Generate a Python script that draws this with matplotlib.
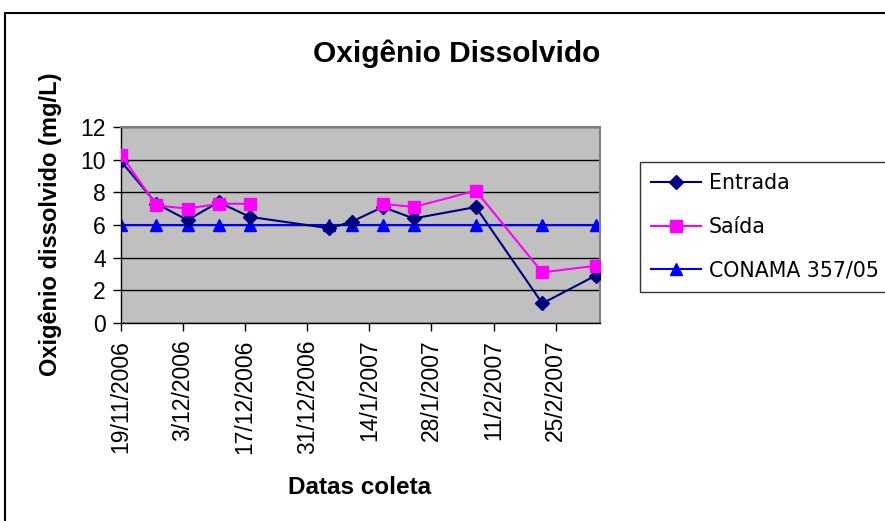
import matplotlib
matplotlib.use("Agg")
import matplotlib.pyplot as plt
from matplotlib.patches import Rectangle
from datetime import datetime
import numpy as np

# collection dates and dissolved oxygen (mg/L)
datas = ["19/11/2006", "27/11/2006", "4/12/2006", "11/12/2006", "18/12/2006",
         "5/1/2007", "10/1/2007", "17/1/2007", "24/1/2007", "7/2/2007",
         "22/2/2007", "6/3/2007"]
entrada = [9.9, 7.3, 6.3, 7.4, 6.5, 5.8, 6.2, 7.1, 6.4, 7.1, 1.2, 2.9]
saida = [10.3, 7.2, 7.0, 7.3, 7.3, np.nan, np.nan, 7.3, 7.1, 8.1, 3.1, 3.5]
conama = [6, 6, 6, 6, 6, 6, 6, 6, 6, 6, 6, 6]
ticks_x = ["19/11/2006", "3/12/2006", "17/12/2006", "31/12/2006", "14/1/2007",
           "28/1/2007", "11/2/2007", "25/2/2007"]
x_fim = "7/3/2007"

def to_date(s):
    return datetime.strptime(s, "%d/%m/%Y")

x = [to_date(d) for d in datas]

plt.rcParams['font.family'] = ['Liberation Sans', 'DejaVu Sans']

fig = plt.figure(figsize=(8.85, 5.21), dpi=100)
ax = fig.add_axes([121 / 885, 1 - 323 / 521, (600 - 121) / 885, (323 - 127) / 521])
ax.set_facecolor("#C0C0C0")

ax.plot(x, entrada, color="#000080", lw=1.5, marker="D", ms=7, label="Entrada", zorder=3)
ax.plot(x, saida, color="#FF00FF", lw=1.5, marker="s", ms=8.5, label="Saída", zorder=4)
ax.plot(x, conama, color="#0000FF", lw=1.5, marker="^", ms=9, label="CONAMA 357/05", zorder=2)

ax.set_ylim(0, 12)
ax.set_yticks(range(0, 13, 2))
ax.yaxis.grid(True, color="black", lw=1)
ax.set_axisbelow(True)

ax.set_xlim(to_date(ticks_x[0]), to_date(x_fim))
ax.set_xticks([to_date(t) for t in ticks_x])
ax.set_xticklabels(ticks_x, rotation=90)

ax.tick_params(axis="both", labelsize=16.5, length=6, width=1, direction="out")
ax.tick_params(axis="y", pad=5)
ax.tick_params(axis="x", pad=6)

for side in ["top", "right"]:
    ax.spines[side].set_color("#808080")
    ax.spines[side].set_linewidth(1.5)
for side in ["left", "bottom"]:
    ax.spines[side].set_color("black")
    ax.spines[side].set_linewidth(1)

fig.text(457 / 885, 1 - 54 / 521, "Oxigênio Dissolvido", ha="center", va="center",
         fontsize=21.5, fontweight="bold")
fig.text(50 / 885, 1 - 224 / 521, "Oxigênio dissolvido (mg/L)", ha="center", va="center",
         rotation=90, fontsize=17, fontweight="bold")
fig.text(360 / 885, 1 - 487 / 521, "Datas coleta", ha="center", va="center",
         fontsize=17.5, fontweight="bold")

leg = fig.legend(loc="upper left", bbox_to_anchor=(640 / 885, 1 - 162 / 521),
                 frameon=True, fancybox=False, edgecolor="black",
                 prop={"family": "DejaVu Sans", "size": 14.8},
                 handlelength=2.4, handletextpad=0.4, labelspacing=1.15,
                 borderpad=0.55, borderaxespad=0)
leg.get_frame().set_linewidth(1)

# outer chart border
fig.patches.append(Rectangle((5 / 885, -0.1), 1.0, 1 - 13 / 521 + 0.1,
                             transform=fig.transFigure, fill=False,
                             edgecolor="black", lw=1.5))

fig.savefig("out.png", dpi=100)
